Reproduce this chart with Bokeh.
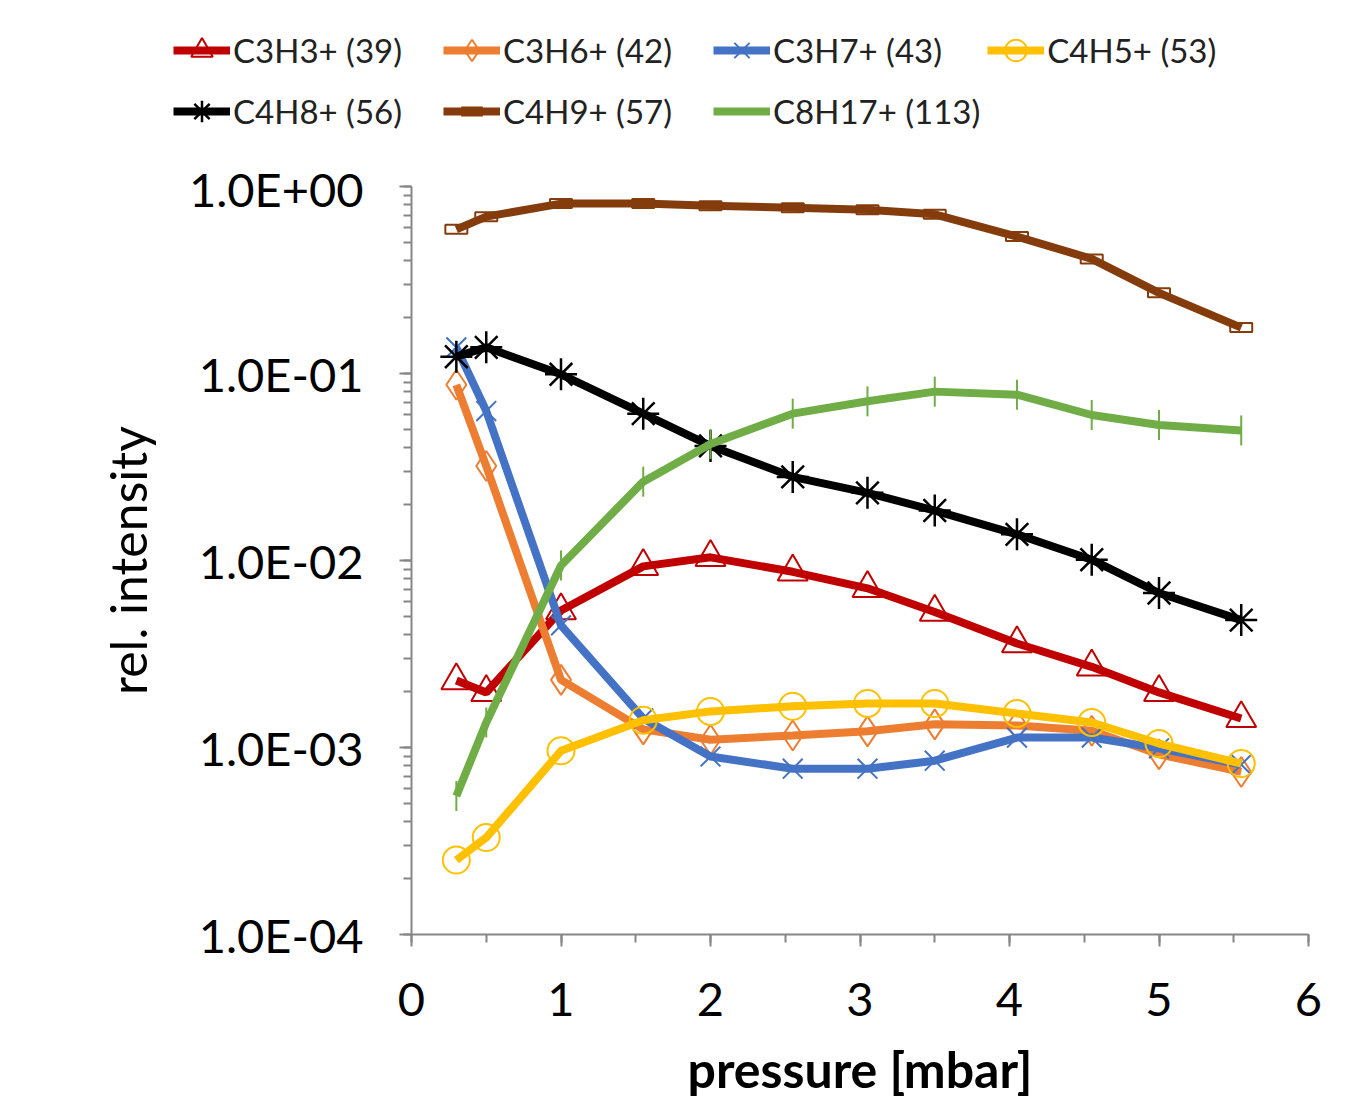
from bokeh.plotting import figure
from bokeh.layouts import column
from bokeh.models import (Legend, LegendItem, LogTicker, SingleIntervalTicker,
                          CustomJSTickFormatter, Range1d)
from bokeh.embed import file_html
from bokeh.resources import INLINE
import math

pressure = [0.3, 0.5, 1.0, 1.55, 2.0, 2.55, 3.05, 3.5, 4.05, 4.55, 5.0, 5.55]

c3h3 = [0.00228, 0.00197, 0.0054, 0.0093, 0.0104, 0.0087, 0.0071, 0.0053, 0.0036, 0.0027, 0.00197, 0.00143]
c3h6 = [0.087, 0.032, 0.0023, 0.00125, 0.0011, 0.00116, 0.00122, 0.00133, 0.00131, 0.00123, 0.00092, 0.00074]
c3h7 = [0.138, 0.063, 0.0045, 0.00143, 0.000895, 0.00077, 0.00077, 0.00085, 0.00113, 0.00113, 0.00099, 0.00081]
c4h5 = [0.00025, 0.00033, 0.00096, 0.0014, 0.00156, 0.00166, 0.00172, 0.00172, 0.00152, 0.00136, 0.00105, 0.00082]
c4h8 = [0.123, 0.138, 0.099, 0.061, 0.041, 0.028, 0.023, 0.0185, 0.0138, 0.0101, 0.0067, 0.0048]
c4h9 = [0.59, 0.69, 0.81, 0.81, 0.79, 0.77, 0.75, 0.71, 0.54, 0.41, 0.27, 0.176]
c8h17 = [0.00055, 0.00136, 0.0094, 0.0264, 0.042, 0.061, 0.071, 0.080, 0.077, 0.060, 0.053, 0.0496]

labels = ["C3H3+ (39)", "C3H6+ (42)", "C3H7+ (43)", "C4H5+ (53)",
          "C4H8+ (56)", "C4H9+ (57)", "C8H17+ (113)"]
series = [c3h3, c3h6, c3h7, c4h5, c4h8, c4h9, c8h17]
colors = ["#C00000", "#ED7D31", "#4472C4", "#FFC000", "#000000", "#843C0C", "#70AD47"]
markers = ["triangle", "diamond", "x", "circle", "asterisk", "rect", "dash_v"]

FONT = "Lato"
W = 1347
LEG_H = 160
NAN = float("nan")


def add_series(fig, xs, ys, col, mk, lw=8, legend_mode=False):
    rs = [fig.line(xs, ys, line_color=col, line_width=lw)]
    if mk == "rect":
        if legend_mode:
            rs.append(fig.scatter(xs, ys, marker="dash", size=28,
                                  line_color=col, line_width=10))
        else:
            rs.append(fig.rect(xs, ys, width=22, height=9, width_units="screen",
                               height_units="screen", fill_alpha=0,
                               line_color=col, line_width=2))
    elif mk == "dash_v":
        rs.append(fig.scatter(xs, ys, marker="dash", angle=math.pi / 2,
                              size=30, line_color=col, line_width=2))
    elif mk == "x":
        rs.append(fig.scatter(xs, ys, marker="x", size=28, line_color=col,
                              line_width=2))
    elif mk == "asterisk":
        rs.append(fig.scatter(xs, ys, marker="asterisk", size=32,
                              line_color=col, line_width=2.5))
    elif mk == "circle":
        rs.append(fig.scatter(xs, ys, marker="circle", size=27, fill_alpha=0,
                              line_color=col, line_width=2))
    else:
        rs.append(fig.scatter(xs, ys, marker=mk, size=30, fill_alpha=0,
                              line_color=col, line_width=2))
    return rs


# ---------- main chart ----------
p = figure(width=W, height=1112 - LEG_H, output_backend="svg",
           toolbar_location=None, y_axis_type="log", x_range=Range1d(0, 6),
           y_range=Range1d(1e-4, 1),
           min_border_left=411, min_border_right=39,
           min_border_top=186 - LEG_H, min_border_bottom=178)
p.outline_line_color = None
p.xgrid.grid_line_color = None
p.ygrid.grid_line_color = None
p.frame_align = False

for ys, col, mk in zip(series, colors, markers):
    add_series(p, pressure, ys, col, mk)

p.yaxis.ticker = LogTicker(num_minor_ticks=10)
p.yaxis.formatter = CustomJSTickFormatter(code="""
    var s = tick.toExponential(1).toUpperCase();
    return s.replace(/E([+-])(\\d)$/, 'E$10$2');
""")
p.xaxis.ticker = SingleIntervalTicker(interval=1, num_minor_ticks=2)

for ax in (p.xaxis[0], p.yaxis[0]):
    ax.axis_line_color = "#868686"
    ax.axis_line_width = 2
    ax.major_tick_line_color = "#868686"
    ax.minor_tick_line_color = "#868686"
    ax.major_tick_line_width = 2
    ax.minor_tick_line_width = 2
    ax.major_tick_out = 12
    ax.major_tick_in = 0
    ax.minor_tick_out = 8
    ax.minor_tick_in = 0
    ax.major_label_text_font = FONT
    ax.major_label_text_font_size = "47px"
    ax.major_label_text_color = "#000000"
    ax.axis_label_text_font = FONT
    ax.axis_label_text_font_size = "50px"
    ax.axis_label_text_color = "#000000"

p.xaxis.major_label_standoff = 36
p.yaxis.major_label_standoff = 36
p.xaxis.axis_label = "pressure [mbar]"
p.xaxis.axis_label_text_font_style = "bold"
p.xaxis.axis_label_standoff = 20
p.yaxis.axis_label = "rel. intensity"
p.yaxis.axis_label_text_font_style = "normal"
p.yaxis.axis_label_standoff = 28

# ---------- legend strip (same series styles, nothing plotted) ----------
lg = figure(width=W, height=LEG_H, output_backend="svg", toolbar_location=None,
            x_range=Range1d(0, 1), y_range=Range1d(0, 1),
            x_axis_location=None, y_axis_location=None,
            min_border=0)
lg.outline_line_color = None
lg.xgrid.grid_line_color = None
lg.ygrid.grid_line_color = None
lg.frame_align = False

items = []
for lab, col, mk in zip(labels, colors, markers):
    rs = add_series(lg, [NAN], [NAN], col, mk, legend_mode=True)
    items.append(LegendItem(label=lab, renderers=rs))

legend = Legend(items=items, orientation="horizontal", nrows=2,
                label_text_font=FONT, label_text_font_size="33px",
                label_text_color="#222222", glyph_width=57, glyph_height=54,
                label_height=54, label_width=203,
                label_standoff=3, spacing=7, padding=0, margin=0,
                border_line_color=None, background_fill_alpha=0)
legend.location = (173, LEG_H - 138)
lg.add_layout(legend, "center")

layout = column(lg, p, spacing=0)
open("out.html", "w").write(file_html(layout, INLINE))
